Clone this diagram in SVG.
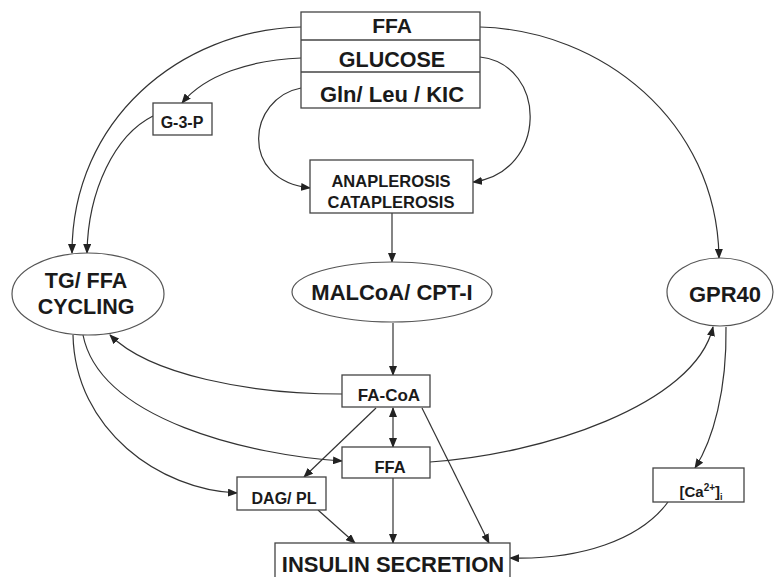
<svg xmlns="http://www.w3.org/2000/svg" width="775" height="577" viewBox="0 0 775 577">
<style>
.box{fill:#fff;stroke:#444;stroke-width:1.3}
.ell{fill:#fff;stroke:#555;stroke-width:1.2}
.t{font-family:"Liberation Sans",Arial,sans-serif;font-weight:bold;fill:#1a1a1a;text-anchor:middle}
.c{fill:none;stroke:#333;stroke-width:1.2}
</style>
<defs>
<marker id="ah" markerWidth="10" markerHeight="8" refX="9" refY="4" orient="auto" markerUnits="userSpaceOnUse">
<path d="M0,0 L10,4 L0,8 Z" fill="#222"/>
</marker>
<marker id="as" markerWidth="10" markerHeight="8" refX="1" refY="4" orient="auto" markerUnits="userSpaceOnUse">
<path d="M10,0 L0,4 L10,8 Z" fill="#222"/>
</marker>
</defs>
<g id="connectors">
<path class="c" d="M301,27 C180,30 72,120 72,253" marker-end="url(#ah)"/>
<path class="c" d="M301,58 C250,60 205,75 182,103" marker-end="url(#ah)"/>
<path class="c" d="M153,116 C115,135 88,190 87,253" marker-end="url(#ah)"/>
<path class="c" d="M301,88 C248,98 238,180 310,188" marker-end="url(#ah)"/>
<path class="c" d="M480,57 C548,65 548,172 473,182" marker-end="url(#ah)"/>
<path class="c" d="M480,27 C600,30 717,120 719,258" marker-end="url(#ah)"/>
<path class="c" d="M392,213 L392,262" marker-end="url(#ah)"/>
<path class="c" d="M393,323 L393,375" stroke="#777" stroke-width="1" marker-end="url(#ah)"/>
<path class="c" d="M342,394 C250,394 150,375 110,335" marker-end="url(#ah)"/>
<path class="c" d="M83,335 C100,420 250,455 342,461" marker-end="url(#ah)"/>
<path class="c" d="M73,335 C75,430 160,490 237,493" marker-end="url(#ah)"/>
<path class="c" d="M376,408 L304,477" marker-end="url(#ah)"/>
<path class="c" d="M393,408 L393,447" marker-start="url(#as)" marker-end="url(#ah)"/>
<path class="c" d="M422,408 L489,543" marker-end="url(#ah)"/>
<path class="c" d="M393,478 L393,543" marker-end="url(#ah)"/>
<path class="c" d="M318,510 L355,543" marker-end="url(#ah)"/>
<path class="c" d="M430,462 C540,455 695,405 713,327" marker-end="url(#ah)"/>
<path class="c" d="M726,327 C727,390 713,440 695,468" marker-end="url(#ah)"/>
<path class="c" d="M668,502 C640,540 580,560 510,558" marker-end="url(#ah)"/>
</g>
<g id="top-inputs">
<rect class="box" x="301" y="12" width="179" height="96"/>
<line x1="301" y1="40" x2="480" y2="40" stroke="#444" stroke-width="1.3"/>
<line x1="301" y1="72" x2="480" y2="72" stroke="#444" stroke-width="1.3"/>
<text class="t" x="392" y="33" font-size="21">FFA</text>
<text class="t" x="392" y="67" font-size="21.5">GLUCOSE</text>
<text class="t" x="392" y="102" font-size="22">Gln/ Leu / KIC</text>
</g>
<g id="g3p">
<rect class="box" x="153" y="103" width="59" height="32"/>
<text class="t" x="182" y="128" font-size="16">G-3-P</text>
</g>
<g id="anaplerosis">
<rect class="box" x="310" y="160" width="163" height="53"/>
<text class="t" x="391" y="187" font-size="16.5">ANAPLEROSIS</text>
<text class="t" x="391" y="208" font-size="16.5">CATAPLEROSIS</text>
</g>
<g id="malcoa">
<ellipse class="ell" cx="392" cy="292" rx="100" ry="30"/>
<text class="t" x="392" y="300" font-size="22">MALCoA/ CPT-I</text>
</g>
<g id="tgffa">
<ellipse class="ell" cx="88" cy="294" rx="76" ry="41"/>
<text class="t" x="86" y="288" font-size="21.5">TG/ FFA</text>
<text class="t" x="86" y="314" font-size="21.5">CYCLING</text>
</g>
<g id="gpr40">
<ellipse class="ell" cx="720" cy="292" rx="53" ry="34"/>
<text class="t" x="725" y="302" font-size="22">GPR40</text>
</g>
<g id="facoa">
<rect class="box" x="342" y="375" width="88" height="32"/>
<text class="t" x="389" y="401" font-size="17">FA-CoA</text>
</g>
<g id="ffa2">
<rect class="box" x="342" y="447" width="88" height="31"/>
<text class="t" x="390" y="473" font-size="16.5">FFA</text>
</g>
<g id="dagpl">
<rect class="box" x="237" y="477" width="89" height="33"/>
<text class="t" x="284" y="504" font-size="16">DAG/ PL</text>
</g>
<g id="ca">
<rect class="box" x="653" y="468" width="91" height="34"/>
<text class="t" x="701" y="497" font-size="15">[Ca<tspan font-size="10" dy="-6">2+</tspan><tspan dy="6">]</tspan><tspan font-size="9" dy="3">i</tspan></text>
</g>
<g id="insulin">
<rect class="box" x="275" y="543" width="235" height="40"/>
<text class="t" x="393" y="572" font-size="22">INSULIN SECRETION</text>
</g>
</svg>
